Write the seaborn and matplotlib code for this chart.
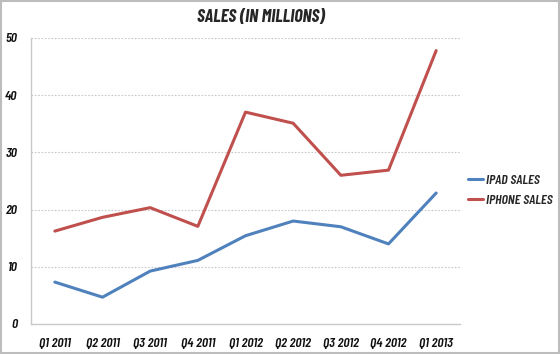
import matplotlib
matplotlib.use("Agg")
import matplotlib.pyplot as plt
import seaborn as sns
import pandas as pd
from matplotlib.patches import Rectangle

quarters = ["Q1 2011", "Q2 2011", "Q3 2011", "Q4 2011", "Q1 2012",
            "Q2 2012", "Q3 2012", "Q4 2012", "Q1 2013"]
ipad_sales = [7.33, 4.69, 9.25, 11.12, 15.43, 18.0, 17.0, 14.0, 22.9]
iphone_sales = [16.24, 18.65, 20.34, 17.07, 37.04, 35.1, 26.0, 26.9, 47.8]
series_names = ["IPAD SALES", "IPHONE SALES"]
colors = ["#4F81BD", "#C0504D"]

df = pd.DataFrame({
    "quarter": quarters * 2,
    "sales": ipad_sales + iphone_sales,
    "series": [series_names[0]] * len(quarters) + [series_names[1]] * len(quarters),
})

sns.set_theme(style="white")
fam = ["Barlow Condensed", "Roboto Condensed", "DejaVu Sans"]
plt.rcParams["font.family"] = fam

fig = plt.figure(figsize=(5.6, 3.54), dpi=100)
ax = fig.add_axes([31 / 560, 1 - 324 / 354, 429 / 560, 286 / 354])

sns.lineplot(data=df, x="quarter", y="sales", hue="series", palette=colors,
             linewidth=2.2, ax=ax, sort=False)

ax.set_xlim(-0.5, len(quarters) - 0.5)
ax.set_ylim(0, 50)
ax.set_yticks(range(0, 51, 10))
ax.set_xlabel("")
ax.set_ylabel("")

font = dict(fontstyle="italic", fontweight=600, fontsize=10)
ax.set_xticks(range(len(quarters)))
ax.set_xticklabels(quarters, **font)
ax.set_yticklabels([str(v) for v in range(0, 51, 10)], **font)
ax.set_xticks([i - 0.5 for i in range(len(quarters) + 1)], minor=True)
ax.tick_params(axis="x", which="major", length=0, pad=10, colors="#111111")
ax.tick_params(axis="x", which="minor", length=4, color="#c8c8c8", width=1)
ax.tick_params(axis="y", length=0, pad=10, colors="#111111")

for s in ["top", "right"]:
    ax.spines[s].set_visible(False)
for s in ["left", "bottom"]:
    ax.spines[s].set_color("#c8c8c8")
    ax.spines[s].set_linewidth(1)

for v in range(10, 51, 10):
    ax.axhline(v, color="#c8c8c8", linestyle=(0, (1.5, 1.5)), linewidth=0.8, zorder=0)

ax.legend(loc="center left", bbox_to_anchor=(0.99, 0.467), frameon=False,
          handlelength=1.1, handletextpad=0.15, labelspacing=0.55,
          prop=dict(family=fam, style="italic", weight=600, size=10))

fig.text(261 / 560, 1 - 18 / 354, "SALES (IN MILLIONS)", ha="center", va="center",
         fontstyle="italic", fontweight="bold", fontsize=13)

fig.patches.append(Rectangle((0.002, 0.003), 0.996, 0.994, transform=fig.transFigure,
                             fill=False, edgecolor="#bdbdbd", linewidth=1.5))

fig.savefig("out.png", dpi=100)
